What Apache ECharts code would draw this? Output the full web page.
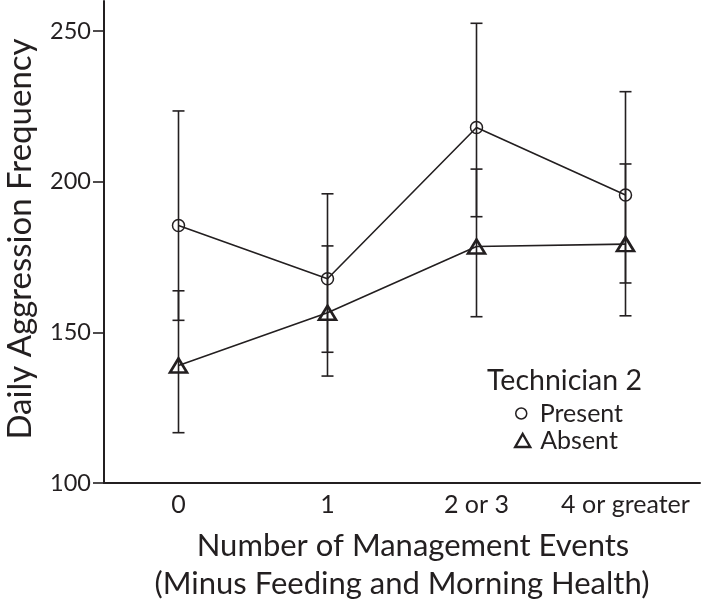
<!DOCTYPE html>
<html>
<head>
<meta charset="utf-8">
<script src="https://cdn.jsdelivr.net/npm/echarts@6/dist/echarts.min.js"></script>
<style>html,body{margin:0;padding:0;background:#fff}#c{width:701px;height:606px}</style>
</head>
<body>
<div id="c"></div>
<script>
const categories = ['0', '1', '2 or 3', '4 or greater'];
const present = [185.5, 167.8, 218.0, 195.6];
const presentLow = [154.0, 143.4, 188.4, 166.4];
const presentHigh = [223.5, 196.0, 252.6, 229.9];
const absent = [139.0, 156.5, 178.5, 179.3];
const absentLow = [116.7, 135.5, 155.2, 155.5];
const absentHigh = [163.8, 178.7, 204.2, 205.9];
const yTicks = [100, 150, 200, 250];
const yTitle = 'Daily Aggression Frequency';
const xTitle1 = 'Number of Management Events';
const xTitle2 = '(Minus Feeding and Morning Health)';
const legendTitle = 'Technician 2';

const FONT = 'Lato, "Open Sans", sans-serif';
const INK = '#231f20';

function errData(lo, hi) {
  return categories.map((c, i) => [i, lo[i], hi[i]]);
}
function renderErr(params, api) {
  const x = api.value(0);
  const lo = api.coord([x, api.value(1)]);
  const hi = api.coord([x, api.value(2)]);
  const cw = 6;
  const st = { stroke: INK, lineWidth: 1.6 };
  return {
    type: 'group',
    children: [
      { type: 'line', shape: { x1: lo[0], y1: lo[1], x2: hi[0], y2: hi[1] }, style: st },
      { type: 'line', shape: { x1: lo[0] - cw, y1: lo[1], x2: lo[0] + cw, y2: lo[1] }, style: st },
      { type: 'line', shape: { x1: hi[0] - cw, y1: hi[1], x2: hi[0] + cw, y2: hi[1] }, style: st }
    ]
  };
}

const chart = echarts.init(document.getElementById('c'), null, { renderer: 'canvas' });
chart.setOption({
  animation: false,
  backgroundColor: '#fff',
  textStyle: { fontFamily: FONT, color: INK },
  grid: { left: 104, right: 1, top: 1, bottom: 123, containLabel: false },
  xAxis: {
    type: 'category',
    data: categories,
    boundaryGap: true,
    axisLine: { lineStyle: { color: INK, width: 2 } },
    axisTick: { show: false },
    axisLabel: { fontSize: 25, color: INK, margin: 9, fontFamily: FONT, interval: 0, hideOverlap: false }
  },
  yAxis: {
    type: 'value',
    min: 100,
    max: 260,
    interval: 50,
    splitLine: { show: false },
    axisLine: { show: true, lineStyle: { color: INK, width: 2 } },
    axisTick: { show: true, length: 11, lineStyle: { color: INK, width: 1.6 }, customValues: yTicks },
    axisLabel: { fontSize: 23.5, color: INK, margin: 13, fontFamily: FONT, customValues: yTicks }
  },
  legend: [
    {
      data: [{ name: 'Present', icon: 'circle', itemStyle: { color: 'rgba(0,0,0,0)', borderColor: INK, borderWidth: 1.5 } }],
      left: 510, top: 396, itemWidth: 11, itemHeight: 11,
      textStyle: { fontSize: 25, color: INK, fontFamily: FONT, padding: [0, 0, 0, 8] },
      selectedMode: false
    },
    {
      data: [{ name: 'Absent', icon: 'triangle', itemStyle: { color: 'rgba(0,0,0,0)', borderColor: INK, borderWidth: 2.4 } }],
      left: 509, top: 423, itemWidth: 15, itemHeight: 13,
      textStyle: { fontSize: 25, color: INK, fontFamily: FONT, padding: [0, 0, 0, 5] },
      selectedMode: false
    }
  ],
  graphic: [
    { type: 'text', left: 487, top: 366, style: { text: legendTitle, font: '28.5px ' + FONT, fill: INK } },
    { type: 'text', x: 413, y: 546, style: { text: xTitle1, font: '31px ' + FONT, fill: INK, align: 'center', verticalAlign: 'middle' } },
    { type: 'text', x: 402, y: 584, style: { text: xTitle2, font: '31px ' + FONT, fill: INK, align: 'center', verticalAlign: 'middle' } },
    { type: 'text', x: 20, y: 239, rotation: Math.PI / 2, style: { text: yTitle, font: '33px ' + FONT, fill: INK, align: 'center', verticalAlign: 'middle' } }
  ],
  series: [
    {
      name: 'PresentErr', type: 'custom', renderItem: renderErr, data: errData(presentLow, presentHigh), z: 1, silent: true
    },
    {
      name: 'AbsentErr', type: 'custom', renderItem: renderErr, data: errData(absentLow, absentHigh), z: 1, silent: true
    },
    {
      name: 'Present', type: 'line', data: present, symbol: 'circle', symbolSize: 12,
      lineStyle: { color: INK, width: 1.6 },
      itemStyle: { color: 'rgba(0,0,0,0)', borderColor: INK, borderWidth: 1.5 },
      z: 3
    },
    {
      name: 'Absent', type: 'line', data: absent, symbol: 'triangle', symbolSize: [17, 14],
      lineStyle: { color: INK, width: 1.6 },
      itemStyle: { color: 'rgba(0,0,0,0)', borderColor: INK, borderWidth: 2.6 },
      z: 3
    }
  ]
});
</script>
</body>
</html>
